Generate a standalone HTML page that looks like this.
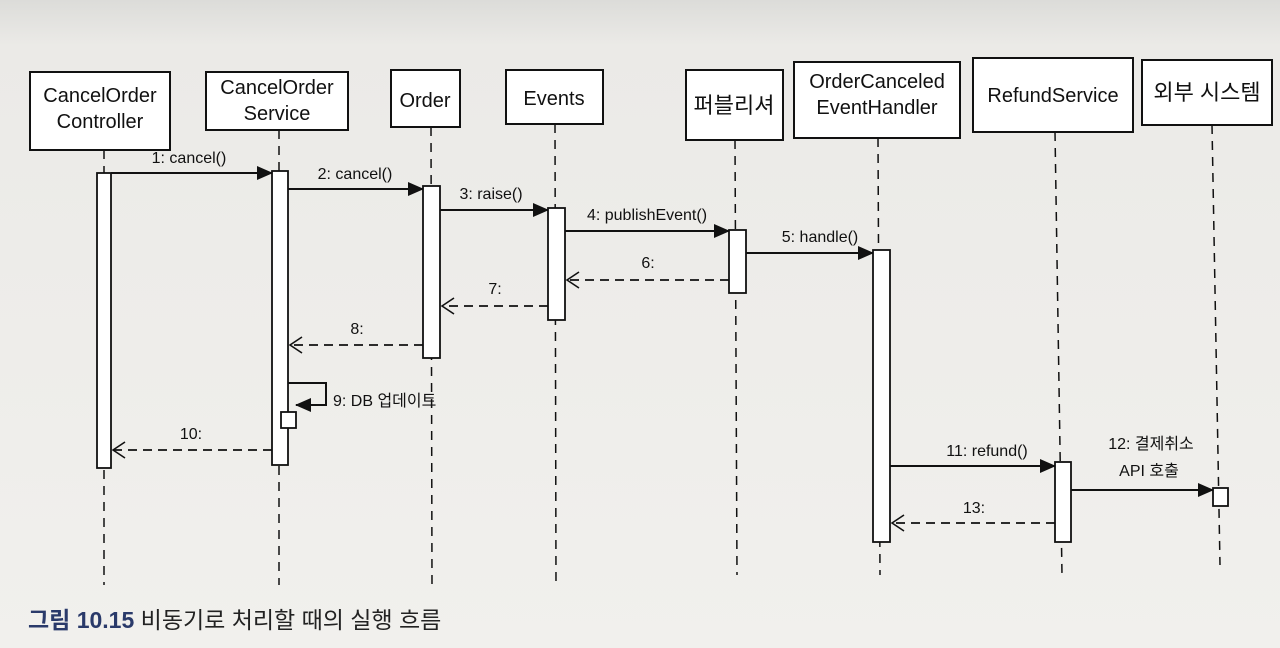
<!DOCTYPE html>
<html><head><meta charset="utf-8"><style>
body{margin:0;width:1280px;height:648px;overflow:hidden;background:#efeeeb;}
svg{display:block}
text{font-family:"Liberation Sans","Noto Sans CJK KR",sans-serif;fill:#111;}
</style></head><body>
<svg width="1280" height="648" viewBox="0 0 1280 648">
<defs>
<linearGradient id="bg" x1="0" y1="0" x2="0" y2="1"><stop offset="0" stop-color="#dcdcd9"/><stop offset="0.07" stop-color="#ebeae7"/><stop offset="1" stop-color="#f1f0ed"/></linearGradient>
<marker id="f" markerWidth="16" markerHeight="14" refX="15" refY="7" orient="auto" markerUnits="userSpaceOnUse"><path d="M0,0 L16,7 L0,14 Z" fill="#111"/></marker>
<marker id="o" markerWidth="14" markerHeight="18" refX="13" refY="9" orient="auto" markerUnits="userSpaceOnUse"><path d="M1,1 L13,9 L1,17" fill="none" stroke="#111" stroke-width="1.6"/></marker>
</defs>
<rect width="1280" height="648" fill="url(#bg)"/>
<g stroke="#111" stroke-width="1.5" stroke-dasharray="9,7" fill="none">
<line x1="104" y1="150" x2="104" y2="585"/>
<line x1="279" y1="130" x2="279" y2="585"/>
<line x1="431" y1="127" x2="432" y2="585"/>
<line x1="555" y1="124" x2="556" y2="585"/>
<line x1="735" y1="140" x2="737" y2="575"/>
<line x1="878" y1="138" x2="880" y2="575"/>
<line x1="1055" y1="132" x2="1062" y2="575"/>
<line x1="1212" y1="125" x2="1220" y2="565"/>
</g>
<g fill="#fff" stroke="#111" stroke-width="2">
<rect x="30" y="72" width="140" height="78"/>
<rect x="206" y="72" width="142" height="58"/>
<rect x="391" y="70" width="69" height="57"/>
<rect x="506" y="70" width="97" height="54"/>
<rect x="686" y="70" width="97" height="70"/>
<rect x="794" y="62" width="166" height="76"/>
<rect x="973" y="58" width="160" height="74"/>
<rect x="1142" y="60" width="130" height="65"/>
</g>
<g font-size="20" text-anchor="middle">
<text x="100" y="102">CancelOrder</text><text x="100" y="128">Controller</text>
<text x="277" y="94">CancelOrder</text><text x="277" y="120">Service</text>
<text x="425" y="107">Order</text>
<text x="554" y="105">Events</text>
<text x="734" y="113" font-size="22">퍼블리셔</text>
<text x="877" y="88">OrderCanceled</text><text x="877" y="114">EventHandler</text>
<text x="1053" y="102">RefundService</text>
<text x="1207" y="100" font-size="22">외부 시스템</text>
</g>
<g fill="#fff" stroke="#111" stroke-width="1.8">
<rect x="97" y="173" width="14" height="295"/>
<rect x="272" y="171" width="16" height="294"/>
<rect x="423" y="186" width="17" height="172"/>
<rect x="548" y="208" width="17" height="112"/>
<rect x="729" y="230" width="17" height="63"/>
<rect x="873" y="250" width="17" height="292"/>
<rect x="1055" y="462" width="16" height="80"/>
<rect x="281" y="412" width="15" height="16"/>
<rect x="1213" y="488" width="15" height="18"/>
</g>
<g stroke="#111" stroke-width="2" fill="none">
<line x1="111" y1="173" x2="272" y2="173" marker-end="url(#f)"/>
<line x1="288" y1="189" x2="423" y2="189" marker-end="url(#f)"/>
<line x1="440" y1="210" x2="548" y2="210" marker-end="url(#f)"/>
<line x1="565" y1="231" x2="729" y2="231" marker-end="url(#f)"/>
<line x1="746" y1="253" x2="873" y2="253" marker-end="url(#f)"/>
<polyline points="288,383 326,383 326,405 296,405" marker-end="url(#f)"/>
<line x1="890" y1="466" x2="1055" y2="466" marker-end="url(#f)"/>
<line x1="1071" y1="490" x2="1213" y2="490" marker-end="url(#f)"/>
</g>
<g stroke="#111" stroke-width="1.8" fill="none" stroke-dasharray="9,6">
<line x1="729" y1="280" x2="567" y2="280" marker-end="url(#o)"/>
<line x1="548" y1="306" x2="442" y2="306" marker-end="url(#o)"/>
<line x1="423" y1="345" x2="290" y2="345" marker-end="url(#o)"/>
<line x1="272" y1="450" x2="113" y2="450" marker-end="url(#o)"/>
<line x1="1055" y1="523" x2="892" y2="523" marker-end="url(#o)"/>
</g>
<g font-size="16" text-anchor="middle">
<text x="189" y="163">1: cancel()</text>
<text x="355" y="179">2: cancel()</text>
<text x="491" y="199">3: raise()</text>
<text x="647" y="220">4: publishEvent()</text>
<text x="820" y="242">5: handle()</text>
<text x="648" y="268">6:</text>
<text x="495" y="294">7:</text>
<text x="357" y="334">8:</text>
<text x="191" y="439">10:</text>
<text x="987" y="456">11: refund()</text>
<text x="1151" y="449">12: 결제취소</text>
<text x="1149" y="476">API 호출</text>
<text x="974" y="513">13:</text>
<text x="333" y="406" text-anchor="start">9: DB 업데이트</text>
</g>
<text x="28" y="628" font-size="23"><tspan font-weight="bold" style="fill:#2a3a6a">그림 10.15</tspan><tspan style="fill:#222"> 비동기로 처리할 때의 실행 흐름</tspan></text>
</svg>
</body></html>
